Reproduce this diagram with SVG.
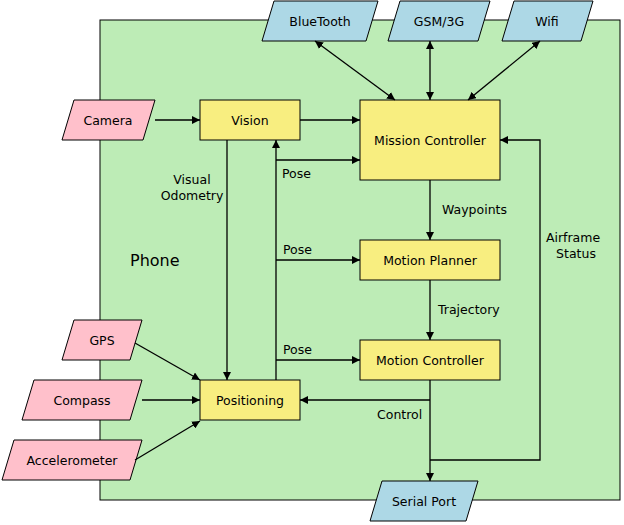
<svg xmlns="http://www.w3.org/2000/svg" width="624" height="525" viewBox="0 0 624 525">
<style>
text{font-family:"DejaVu Sans",sans-serif;font-size:12.5px;fill:#000}
.c{text-anchor:middle;dominant-baseline:central}
.y{fill:#f8ee80;stroke:#000;stroke-width:1}
.b{fill:#add8e6;stroke:#000;stroke-width:1}
.p{fill:#ffc0cb;stroke:#000;stroke-width:1}
#connectors path{fill:none;stroke:#000;stroke-width:1.3}
</style>
<defs>
<marker id="a" viewBox="0 0 10 10" refX="10" refY="5" markerWidth="8" markerHeight="8" orient="auto-start-reverse" markerUnits="userSpaceOnUse"><path d="M0,0L10,5L0,10z" fill="#000"/></marker>
</defs>
<g id="phone"><rect x="100" y="20" width="520" height="480" fill="#bdecb6" stroke="#000"/><text x="130" y="266" style="font-size:16px">Phone</text></g>
<g id="bluetooth"><polygon class="b" points="274,1 378,1 366,41 262,41"/><text class="c" x="320" y="21">BlueTooth</text></g>
<g id="gsm"><polygon class="b" points="400,1 490,1 478,41 388,41"/><text class="c" x="439" y="21">GSM/3G</text></g>
<g id="wifi"><polygon class="b" points="514,1 593,1 581,41 502,41"/><text class="c" x="547" y="21">Wifi</text></g>
<g id="serial"><polygon class="b" points="382,481 478,481 466,521 370,521"/><text class="c" x="424" y="501">Serial Port</text></g>
<g id="camera"><polygon class="p" points="74,100 155,100 143,140 62,140"/><text class="c" x="108" y="120">Camera</text></g>
<g id="gps"><polygon class="p" points="74,320 142,320 130,360 62,360"/><text class="c" x="102" y="340">GPS</text></g>
<g id="compass"><polygon class="p" points="34,380 142,380 130,420 22,420"/><text class="c" x="82" y="400">Compass</text></g>
<g id="accel"><polygon class="p" points="14,440 142,440 130,480 2,480"/><text class="c" x="72" y="460">Accelerometer</text></g>
<g id="vision"><rect class="y" x="200" y="100" width="100" height="40"/><text class="c" x="250" y="120">Vision</text></g>
<g id="mission"><rect class="y" x="360" y="100" width="140" height="80"/><text class="c" x="430" y="140">Mission Controller</text></g>
<g id="planner"><rect class="y" x="360" y="240" width="140" height="40"/><text class="c" x="430" y="260">Motion Planner</text></g>
<g id="mcontroller"><rect class="y" x="360" y="340" width="140" height="40"/><text class="c" x="430" y="360">Motion Controller</text></g>
<g id="positioning"><rect class="y" x="200" y="380" width="100" height="40"/><text class="c" x="250" y="400">Positioning</text></g>
<g id="connectors">
<path d="M155,120H200" marker-end="url(#a)"/>
<path d="M300,120H360" marker-end="url(#a)"/>
<path d="M315,41L395,100" marker-start="url(#a)" marker-end="url(#a)"/>
<path d="M430,41V100" marker-start="url(#a)" marker-end="url(#a)"/>
<path d="M540,41L468,100" marker-start="url(#a)" marker-end="url(#a)"/>
<path d="M227,140V380" marker-end="url(#a)"/>
<path d="M276,380V140" marker-end="url(#a)"/>
<path d="M276,160H360" marker-end="url(#a)"/>
<path d="M276,260H360" marker-end="url(#a)"/>
<path d="M276,360H360" marker-end="url(#a)"/>
<path d="M430,180V240" marker-end="url(#a)"/>
<path d="M430,280V340" marker-end="url(#a)"/>
<path d="M430,380V481" marker-end="url(#a)"/>
<path d="M430,400H300" marker-end="url(#a)"/>
<path d="M430,460H540V140H500" marker-end="url(#a)"/>
<path d="M135,343L200,380" marker-end="url(#a)"/>
<path d="M142,400H200" marker-end="url(#a)"/>
<path d="M135,460L200,421" marker-end="url(#a)"/>
<text class="c" x="192" y="179">Visual</text>
<text class="c" x="192" y="195">Odometry</text>
<text x="282" y="178">Pose</text>
<text x="283" y="254">Pose</text>
<text x="283" y="354">Pose</text>
<text x="442" y="214">Waypoints</text>
<text x="438" y="314">Trajectory</text>
<text x="377" y="419">Control</text>
<text class="c" x="573" y="237">Airframe</text>
<text class="c" x="576" y="253">Status</text>
</g>
</svg>
